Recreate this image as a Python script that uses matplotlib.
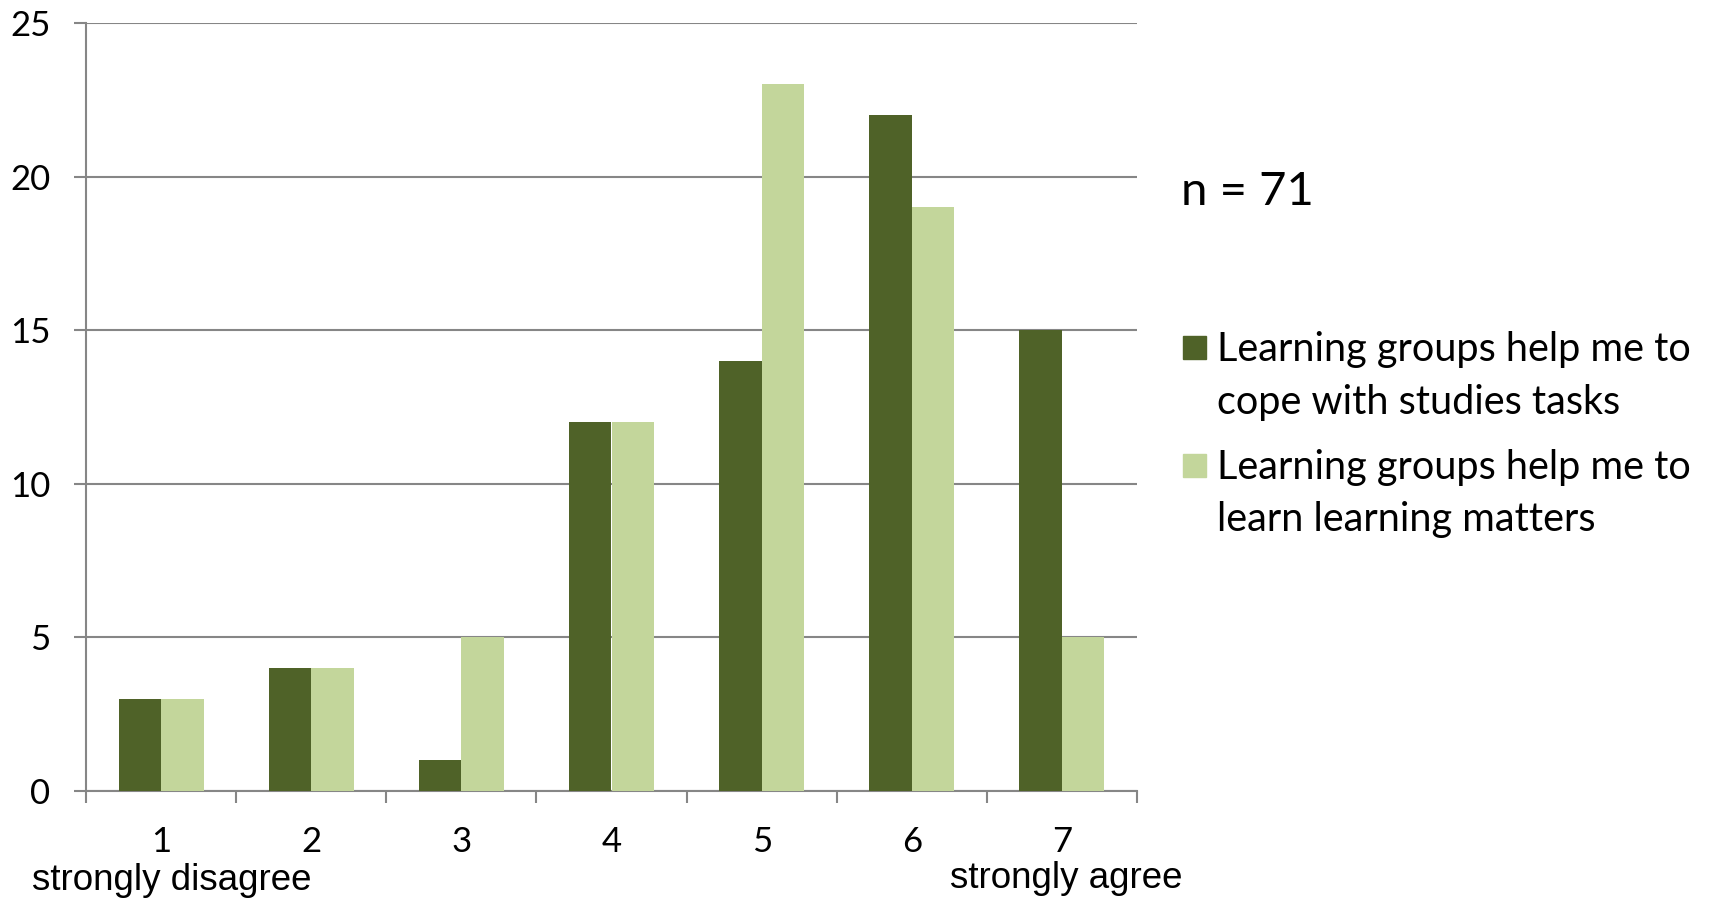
import matplotlib
matplotlib.use("Agg")
import matplotlib.pyplot as plt
from matplotlib.patches import Rectangle
import numpy as np

# Survey answers on a 7-point scale
categories = ["1", "2", "3", "4", "5", "6", "7"]
cope_tasks = [3, 4, 1, 12, 14, 22, 15]
learn_matters = [3, 4, 5, 12, 23, 19, 5]
series_labels = ["Learning groups help me to\ncope with studies tasks",
                 "Learning groups help me to\nlearn learning matters"]
y_ticks = [0, 5, 10, 15, 20, 25]
sample_note = "n = 71"
scale_ends = ["strongly disagree", "strongly agree"]

DARK = "#4F6228"
LIGHT = "#C3D69B"
GRID = "#868686"
FONT = "Lato"
ARIAL = "Liberation Sans"

W, H, DPI = 1710, 899, 100
fig = plt.figure(figsize=(W / DPI, H / DPI), dpi=DPI)
ax = fig.add_axes([86 / W, 1 - 791 / H, (1137 - 86) / W, (791 - 23) / H])

x = np.arange(len(categories))
bw = 0.283
ax.bar(x - bw / 2, cope_tasks, width=bw, color=DARK, zorder=3)
ax.bar(x + bw / 2, learn_matters, width=bw, color=LIGHT, zorder=3)

ax.set_xlim(-0.5, len(categories) - 0.5)
ax.set_ylim(0, 25)

for s in ("top", "right"):
    ax.spines[s].set_visible(False)
for s in ("left", "bottom"):
    ax.spines[s].set_color(GRID)
    ax.spines[s].set_linewidth(1.5)

ax.set_yticks(y_ticks)
ax.set_yticklabels([str(v) for v in y_ticks], fontfamily=FONT, fontsize=25)
ax.tick_params(axis="y", length=8.6, width=1.5, color=GRID, pad=17)
ax.yaxis.grid(True, color=GRID, linewidth=1.5, zorder=0)

# boundaries carry the tick marks, centres carry the labels
ax.set_xticks(np.arange(len(categories) + 1) - 0.5)
ax.set_xticklabels([])
ax.tick_params(axis="x", which="major", length=8.6, width=1.5, color=GRID)
ax.set_xticks(x, minor=True)
ax.set_xticklabels(categories, minor=True, fontfamily=FONT, fontsize=25)
ax.tick_params(axis="x", which="minor", length=0, pad=25)

fig.text(32 / W, 1 - 880 / H, scale_ends[0], fontfamily=ARIAL, fontsize=26.5,
         ha="left", va="center")
fig.text(1182 / W, 1 - 878 / H, scale_ends[1], fontfamily=ARIAL, fontsize=26.5,
         ha="right", va="center")

fig.text(1181 / W, 1 - 192 / H, sample_note, fontfamily=FONT, fontsize=34,
         ha="left", va="center")

# legend drawn by hand: swatch plus a two-line label
for i, (lab, col) in enumerate(zip(series_labels, [DARK, LIGHT])):
    top = 336 + i * 118
    fig.patches.append(Rectangle((1183 / W, 1 - (top + 23) / H), 23 / W, 23 / H,
                                 transform=fig.transFigure, color=col))
    for j, line in enumerate(lab.split("\n")):
        fig.text(1217 / W, 1 - (top + 13 + j * 53) / H, line, fontfamily=FONT,
                 fontsize=28.5, ha="left", va="center")

fig.savefig("out.png", dpi=DPI)
